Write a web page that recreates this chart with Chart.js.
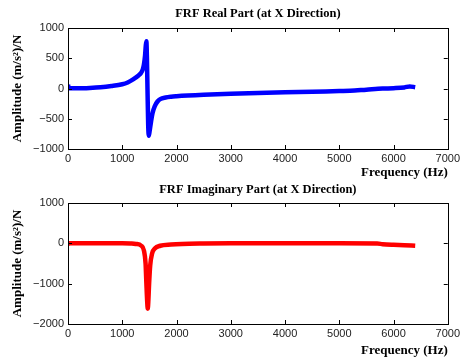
<!DOCTYPE html>
<html>
<head>
<meta charset="utf-8">
<script src="https://cdn.jsdelivr.net/npm/chart.js@4/dist/chart.umd.min.js"></script>
<style>
  html, body { margin: 0; padding: 0; background: #fff; }
  .wrap { position: absolute; left: 0; width: 463px; }
  #w1 { top: 0; height: 180px; }
  #w2 { top: 180px; height: 181px; }
</style>
</head>
<body>
<div class="wrap" id="w1"><canvas id="realChart"></canvas></div>
<div class="wrap" id="w2"><canvas id="imagChart"></canvas></div>
<script>
// FRF at X direction — real and imaginary parts

const realFreq = [0, 15, 200, 400, 600, 800, 1000, 1100, 1200, 1300, 1340, 1380, 1400, 1420, 1435, 1445, 1455, 1465, 1478, 1490, 1505, 1530, 1560, 1600, 1650, 1700, 1800, 1900, 2000, 2500, 3000, 3500, 4000, 4500, 5000, 5200, 5500, 5800, 6000, 6200, 6300, 6400];
const realAmp  = [60, 5, 5, 10, 20, 40, 70, 100, 150, 215, 250, 320, 400, 540, 720, 780, 500, 0, -600, -780, -700, -550, -400, -290, -215, -175, -148, -135, -128, -105, -88, -76, -64, -54, -42, -38, -20, -2, 5, 18, 35, 22];

const imagFreq = [0, 20, 500, 1000, 1150, 1250, 1350, 1400, 1430, 1445, 1460, 1470, 1480, 1495, 1515, 1550, 1600, 1700, 1900, 2100, 2500, 3000, 4000, 5000, 5700, 5800, 6000, 6200, 6400];
const imagAmp  = [-20, 0, 0, 0, -5, -15, -60, -180, -500, -1000, -1450, -1620, -1450, -1000, -550, -250, -130, -60, -30, -15, -5, 0, 0, 0, -5, -20, -35, -45, -60];

const xTicks = [0, 1000, 2000, 3000, 4000, 5000, 6000, 7000];
const realYTicks = [-1000, -500, 0, 500, 1000];
const imagYTicks = [-2000, -1000, 0, 1000];

const fmt = v => (v < 0 ? '\u2212' + Math.abs(v) : String(v));
const serif = 'Liberation Serif, Times New Roman, serif';
const sans = 'Liberation Sans, Arial, sans-serif';

// MATLAB-style box with inward ticks
const boxTicks = {
  id: 'boxTicks',
  afterDraw(chart) {
    const { ctx, chartArea: a, scales } = chart;
    const len = 4;
    ctx.save();
    ctx.strokeStyle = '#000';
    ctx.lineWidth = 1;
    ctx.strokeRect(Math.round(a.left) + 0.5, Math.round(a.top) + 0.5, Math.round(a.right - a.left), Math.round(a.bottom - a.top));
    ctx.beginPath();
    scales.x.ticks.forEach(t => {
      const px = Math.round(scales.x.getPixelForValue(t.value)) + 0.5;
      ctx.moveTo(px, a.bottom); ctx.lineTo(px, a.bottom - len);
      ctx.moveTo(px, a.top); ctx.lineTo(px, a.top + len);
    });
    scales.y.ticks.forEach(t => {
      const py = Math.round(scales.y.getPixelForValue(t.value)) + 0.5;
      ctx.moveTo(a.left, py); ctx.lineTo(a.left + len, py);
      ctx.moveTo(a.right, py); ctx.lineTo(a.right - len, py);
    });
    ctx.stroke();
    ctx.restore();
  }
};

function buildChart(id, title, freq, amp, color, yTicks, titlePad, xHeight, xTitleBottom) {
  const ctx = document.getElementById(id).getContext('2d');
  return new Chart(ctx, {
    type: 'line',
    data: {
      datasets: [{
        data: freq.map((f, i) => ({ x: f, y: amp[i] })),
        borderColor: color,
        borderWidth: 4.5,
        pointRadius: 0,
        cubicInterpolationMode: 'monotone',
        fill: false
      }]
    },
    options: {
      responsive: true,
      maintainAspectRatio: false,
      animation: false,
      layout: { padding: { right: 14, left: 0, top: 0, bottom: 0 } },
      scales: {
        x: {
          type: 'linear',
          min: xTicks[0],
          max: xTicks[xTicks.length - 1],
          afterBuildTicks: s => { s.ticks = xTicks.map(v => ({ value: v })); },
          afterFit: s => { s.height = xHeight; },
          grid: { display: false, drawTicks: false },
          border: { display: false },
          ticks: { color: '#222', font: { family: sans, size: 11 }, padding: 3, maxRotation: 0, callback: fmt },
          title: {
            display: true, text: 'Frequency (Hz)', align: 'end', color: '#000',
            font: { family: serif, size: 13, weight: 'bold' },
            padding: { top: 0, bottom: xTitleBottom }
          }
        },
        y: {
          min: yTicks[0],
          max: yTicks[yTicks.length - 1],
          afterBuildTicks: s => { s.ticks = yTicks.map(v => ({ value: v })); },
          afterFit: s => { s.width = 68; },
          grid: { display: false, drawTicks: false },
          border: { display: false },
          ticks: { color: '#222', font: { family: sans, size: 11 }, padding: 4, callback: fmt },
          title: {
            display: true, text: 'Amplitude (m/s\u00b2)/N', color: '#000',
            font: { family: serif, size: 13, weight: 'bold' },
            padding: { top: 10, bottom: 0 }
          }
        }
      },
      plugins: {
        legend: { display: false },
        tooltip: { enabled: false },
        title: {
          display: true, text: title, fullSize: false, color: '#000',
          font: { family: serif, size: 12.5, weight: 'bold' },
          padding: titlePad
        }
      }
    },
    plugins: [boxTicks]
  });
}

buildChart('realChart', 'FRF Real Part (at X Direction)', realFreq, realAmp, '#0000ff', realYTicks, { top: 6, bottom: 7 }, 31, 0);
buildChart('imagChart', 'FRF Imaginary Part (at X Direction)', imagFreq, imagAmp, '#ff0000', imagYTicks, { top: 2, bottom: 6 }, 37, 3);
</script>
</body>
</html>
